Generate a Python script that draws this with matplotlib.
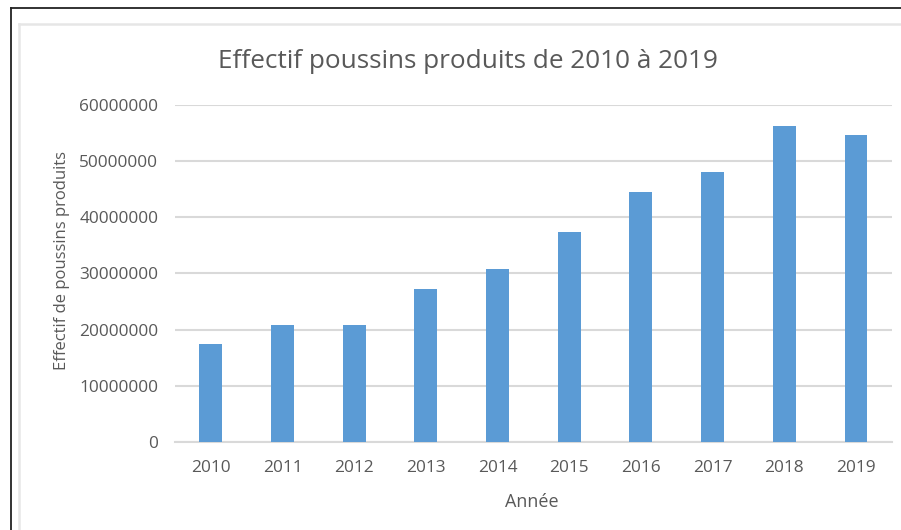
import matplotlib
matplotlib.use("Agg")
import matplotlib.pyplot as plt
from matplotlib.lines import Line2D
from matplotlib.ticker import MultipleLocator, FuncFormatter

years = ["2010", "2011", "2012", "2013", "2014", "2015", "2016", "2017", "2018", "2019"]
values = [17400000, 20900000, 20900000, 27200000, 30800000, 37400000, 44500000, 48000000, 56300000, 54600000]

title = "Effectif poussins produits de 2010 à 2019"
xlabel = "Année"
ylabel = "Effectif de poussins produits"

W, H = 901, 530
plt.rcParams['font.family'] = ['Open Sans', 'DejaVu Sans']
txt = "#595959"
grid = "#d9d9d9"
bar_color = "#5b9bd5"

fig = plt.figure(figsize=(W / 100, H / 100), dpi=100)
fig.patch.set_facecolor("white")

# outer frame lines
fig.add_artist(Line2D([11 / W, 11 / W], [0, 1 - 8 / H], color="#222222", lw=1.3, transform=fig.transFigure))
fig.add_artist(Line2D([11 / W, 1], [1 - 8 / H, 1 - 8 / H], color="#222222", lw=1.3, transform=fig.transFigure))
# inner chart area border (left and top only)
fig.add_artist(Line2D([19 / W, 19 / W], [0, 1 - 24 / H], color="#e6e6e6", lw=1.8, transform=fig.transFigure))
fig.add_artist(Line2D([19 / W, 1], [1 - 24 / H, 1 - 24 / H], color="#e6e6e6", lw=1.8, transform=fig.transFigure))

ax = fig.add_axes([175 / W, 1 - 442 / H, (891.7 - 175) / W, (442 - 104.7) / H])
x = list(range(len(years)))
ax.bar(x, values, width=0.317, color=bar_color, zorder=3)
ax.set_xlim(-0.5, len(years) - 0.5)
ax.set_ylim(0, 60000000)
ax.yaxis.set_major_locator(MultipleLocator(10000000))
ax.yaxis.set_major_formatter(FuncFormatter(lambda v, p: f"{int(round(v))}"))
ax.set_xticks(x)
ax.set_xticklabels(years)
ax.grid(axis="y", color=grid, lw=1.5, zorder=0)
for s in ["top", "right", "left"]:
    ax.spines[s].set_visible(False)
ax.spines["bottom"].set_color(grid)
ax.spines["bottom"].set_linewidth(1.5)
ax.tick_params(axis="both", length=0, colors=txt, labelsize=12.4)
ax.tick_params(axis="y", pad=12)
ax.tick_params(axis="x", pad=13)

fig.text(467.5 / W, 1 - 61 / H, title, ha="center", va="center", fontsize=18.8, color=txt)
fig.text(532 / W, 1 - 502 / H, xlabel, ha="center", va="center", fontsize=13, color=txt)
fig.text(62 / W, 1 - 260 / H, ylabel, ha="center", va="center", rotation=90, fontsize=12, color=txt)

fig.savefig("out.png", dpi=100)
